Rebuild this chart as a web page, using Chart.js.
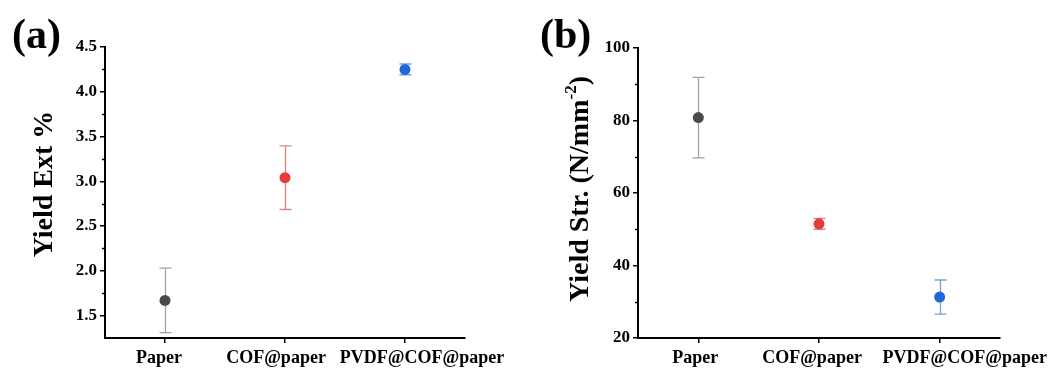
<!DOCTYPE html>
<html><head><meta charset="utf-8">
<script src="https://cdn.jsdelivr.net/npm/chart.js@4"></script>
<style>
html,body{margin:0;padding:0;background:#fff;overflow:hidden;width:1050px;height:368px}
#ca{position:absolute;left:0;top:0}
#cb{position:absolute;left:520px;top:0}
</style>
</head><body>
<canvas id="ca" width="520" height="368"></canvas>
<canvas id="cb" width="530" height="368"></canvas>
<script>
const categories = ['Paper', 'COF@paper', 'PVDF@COF@paper'];
const yieldExt = [1.67, 3.04, 4.25];
const yieldExtErr = [0.36, 0.355, 0.06];
const yieldStr = [80.8, 51.5, 31.3];
const yieldStrErr = [11.1, 1.5, 4.7];
const extTicks = [1.5, 2.0, 2.5, 3.0, 3.5, 4.0, 4.5];
const extMinor = [1.75, 2.25, 2.75, 3.25, 3.75, 4.25];
const strTicks = [20, 40, 60, 80, 100];
const strMinor = [30, 50, 70, 90];
const pointColors = ['#4a4a4a', '#e43b3b', '#1f67d6'];
const errColors = ['#a3a3a3', '#d98585', '#78a2d6'];

const FAMILY = '"Liberation Serif", "Times New Roman", serif';

const errorBars = {
  id: 'errorBars',
  beforeDatasetsDraw(chart, args, o) {
    const { ctx, scales: { x, y } } = chart;
    const vals = chart.data.datasets[0].data;
    ctx.save();
    ctx.lineWidth = 1.3;
    vals.forEach((v, i) => {
      const px = Math.round(x.getPixelForValue(i)) + 0.5;
      const top = y.getPixelForValue(v + o.errors[i]);
      const bot = y.getPixelForValue(v - o.errors[i]);
      ctx.strokeStyle = errColors[i];
      ctx.beginPath();
      ctx.moveTo(px, top); ctx.lineTo(px, bot);
      ctx.moveTo(px - 6, top); ctx.lineTo(px + 6, top);
      ctx.moveTo(px - 6, bot); ctx.lineTo(px + 6, bot);
      ctx.stroke();
    });
    ctx.restore();
  }
};

// the source figure places the long category labels slightly off-centre so they do not collide
const labelNudge = {
  id: 'labelNudge',
  beforeDraw(chart, args, o) {
    const x = chart.scales.x;
    const items = x.getLabelItems(chart.chartArea);
    items.forEach((it, i) => {
      if (!it._nudged) {
        it.options.translation[0] += (o.shift[i] || 0);
        it._nudged = true;
      }
    });
  }
};

const deco = {
  id: 'deco',
  afterDraw(chart, args, o) {
    const { ctx, scales: { y } } = chart;
    ctx.save();
    ctx.strokeStyle = '#000';
    ctx.lineWidth = 1.5;
    const ax = y.right;
    o.minor.forEach(v => {
      const py = Math.round(y.getPixelForValue(v)) + 0.5;
      ctx.beginPath();
      ctx.moveTo(ax - 3, py); ctx.lineTo(ax, py);
      ctx.stroke();
    });
    ctx.fillStyle = '#000';
    ctx.textAlign = 'left';
    ctx.textBaseline = 'middle';
    ctx.font = 'bold 42px ' + FAMILY;
    ctx.fillText(o.panel, o.panelX, o.panelY);
    ctx.translate(o.titleX, o.titleY);
    ctx.rotate(-Math.PI / 2);
    let total = 0;
    const widths = o.title.map(p => {
      ctx.font = 'bold ' + p.s + 'px ' + FAMILY;
      const w = ctx.measureText(p.t).width;
      total += w;
      return w;
    });
    let cx = -total / 2;
    o.title.forEach((p, i) => {
      ctx.font = 'bold ' + p.s + 'px ' + FAMILY;
      ctx.fillText(p.t, cx, p.dy || 0);
      cx += widths[i];
    });
    ctx.restore();
  }
};

function makeChart(id, values, errors, yMin, yMax, ticks, fmt, yWidth, padRight, padTop, decoOpts, shift) {
  return new Chart(document.getElementById(id), {
    type: 'line',
    data: {
      labels: categories,
      datasets: [{
        data: values,
        showLine: false,
        pointRadius: 5.5,
        pointHoverRadius: 5.5,
        pointBorderWidth: 0,
        pointBackgroundColor: pointColors,
        pointBorderColor: pointColors
      }]
    },
    options: {
      responsive: false,
      animation: false,
      events: [],
      layout: { padding: { left: 0, top: padTop, right: padRight, bottom: 0 } },
      plugins: {
        legend: { display: false },
        tooltip: { enabled: false },
        errorBars: { errors: errors },
        labelNudge: { shift: shift },
        deco: decoOpts
      },
      scales: {
        x: {
          type: 'category',
          offset: true,
          afterFit: s => { s.height = 30; },
          border: { display: true, color: '#000', width: 2 },
          grid: { display: true, drawOnChartArea: false, drawTicks: true, tickLength: 5, color: '#000', lineWidth: 1.5, offset: false },
          ticks: { color: '#000', padding: 5, maxRotation: 0, autoSkip: false, font: { family: FAMILY, weight: 'bold', size: 18 } }
        },
        y: {
          min: yMin, max: yMax,
          afterBuildTicks: s => { s.ticks = ticks.map(v => ({ value: v })); },
          afterFit: s => { s.width = yWidth; },
          border: { display: true, color: '#000', width: 2 },
          grid: { display: true, drawOnChartArea: false, drawTicks: true, tickLength: 5, color: '#000', lineWidth: 1.5 },
          ticks: { color: '#000', padding: 3, callback: fmt, font: { family: FAMILY, weight: 'bold', size: 17 } }
        }
      }
    },
    plugins: [errorBars, labelNudge, deco]
  });
}

makeChart('ca', yieldExt, yieldExtErr, 1.25, 4.5, extTicks, v => Number(v).toFixed(1), 105, 55, 47, {
  minor: extMinor, panel: '(a)', panelX: 12, panelY: 37,
  titleX: 45, titleY: 184,
  title: [{ t: 'Yield Ext %', s: 28 }]
}, [-6, -9, 17]);

makeChart('cb', yieldStr, yieldStrErr, 20, 100, strTicks, v => String(v), 118, 50, 48, {
  minor: strMinor, panel: '(b)', panelX: 20, panelY: 37,
  titleX: 61, titleY: 189,
  title: [{ t: 'Yield Str. (N/mm', s: 28 }, { t: '-2', s: 17, dy: -9 }, { t: ')', s: 28 }]
}, [-3, -7, 25]);
</script>
</body></html>
